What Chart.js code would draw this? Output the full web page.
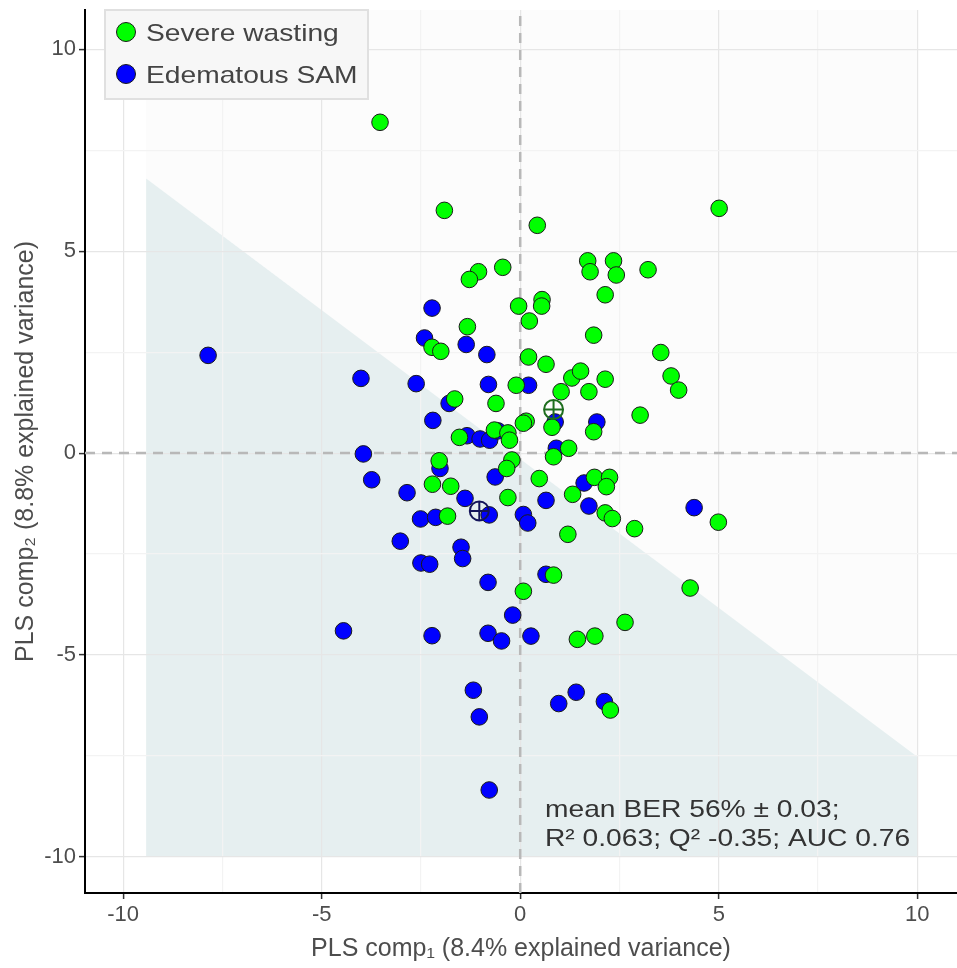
<!DOCTYPE html>
<html><head><meta charset="utf-8">
<script src="https://cdn.jsdelivr.net/npm/chart.js@4/dist/chart.umd.min.js"></script>
<style>html,body{margin:0;padding:0;background:#fff;}canvas{display:block}</style>
</head><body>
<canvas id="c" width="957" height="968"></canvas>
<script>
// ---------- data ----------
const groupLabels = ['Severe wasting', 'Edematous SAM'];
const severeX = [-3.53,-1.91,0.43,5.01,1.70,1.76,2.35,2.42,3.22,2.14,-0.44,-1.05,-1.28,-0.04,0.55,0.54,0.23,1.85,-1.33,-2.22,-2.00,0.21,0.65,1.30,1.52,2.14,3.54,3.80,3.99,-0.10,1.03,1.73,-1.65,-0.61,3.02,0.15,0.80,1.85,1.22,0.84,-0.21,-0.34,-1.53,-0.65,-0.31,-0.27,-2.04,-2.21,-1.75,0.48,-0.31,1.32,1.87,2.25,2.17,2.14,2.32,2.88,1.20,-1.83,0.84,0.08,2.64,1.44,1.88,2.27,4.99,4.28,0.08];
const severeY = [8.19,6.01,5.64,6.06,4.76,4.49,4.76,4.41,4.54,3.92,4.60,4.49,4.30,3.64,3.80,3.64,3.27,2.92,3.13,2.62,2.52,2.38,2.20,1.86,2.03,1.83,2.49,1.91,1.56,1.68,1.52,1.52,1.34,1.23,0.94,0.79,0.64,0.53,0.12,-0.09,-0.17,-0.38,0.39,0.57,0.50,0.32,-0.19,-0.77,-0.82,-0.63,-1.10,-1.02,-0.60,-0.60,-0.83,-1.48,-1.62,-1.87,-2.01,-1.56,-3.02,-3.42,-4.19,-4.61,-4.53,-6.36,-1.71,-3.34,0.74];
const edemaX = [-7.86,-2.22,-2.41,-1.36,-0.84,-4.01,-2.62,-0.80,0.21,-1.79,-2.20,-1.34,-1.01,-0.77,-0.56,0.88,1.93,0.91,-2.02,-0.63,-3.95,-3.74,-2.85,-1.39,0.65,1.61,1.73,4.38,-2.51,-2.13,-0.78,0.08,0.19,-3.02,-1.49,-1.45,-2.50,-2.28,-0.81,0.65,-0.19,-4.45,-2.22,-0.81,-0.47,0.27,-1.18,-1.03,0.97,1.41,2.12,-0.78];
const edemaY = [2.42,3.59,2.85,2.69,2.44,1.85,1.72,1.70,1.68,1.23,0.81,0.43,0.35,0.32,0.55,0.77,0.77,0.12,-0.38,-0.59,-0.02,-0.66,-0.98,-1.12,-1.17,-0.74,-1.31,-1.35,-1.63,-1.59,-1.53,-1.52,-1.73,-2.18,-2.33,-2.61,-2.72,-2.75,-3.20,-3.00,-4.01,-4.40,-4.52,-4.46,-4.65,-4.53,-5.87,-6.53,-6.20,-5.92,-6.15,-8.34];
const centroidX = [0.84, -1.03];
const centroidY = [1.08, -1.43];
const xRange = [-10.96, 11.0];
const yRange = [-10.89, 10.97];
const majorTicks = [-10, -5, 0, 5, 10];
const regionEdemaX = [-9.42, 10, 10, -9.42];
const regionEdemaY = [6.8, -7.52, -10, -10];
const regionSevereX = [-9.42, 10, 10, -9.42];
const regionSevereY = [10.97, 10.97, -7.52, 6.8];
const xTitle = 'PLS comp\u2081 (8.4% explained variance)';
const yTitle = 'PLS comp\u2082 (8.8% explained variance)';
const statsLines = ['mean BER 56% \u00b1 0.03;', 'R\u00b2 0.063; Q\u00b2 -0.35; AUC 0.76'];

// ---------- styles ----------
const FONT = "'Liberation Sans', Arial, sans-serif";
const colSevere = '#00ff00', colEdema = '#0000ff';
const toPts = (xs, ys) => xs.map((x, i) => ({x: x, y: ys[i]}));

const regionPlugin = {
  id: 'regions',
  beforeDraw(chart) {
    const {ctx, scales: {x, y}} = chart;
    const poly = (xs, ys, fill) => {
      ctx.beginPath();
      xs.forEach((v, i) => {
        const px = x.getPixelForValue(v), py = y.getPixelForValue(ys[i]);
        i ? ctx.lineTo(px, py) : ctx.moveTo(px, py);
      });
      ctx.closePath(); ctx.fillStyle = fill; ctx.fill();
    };
    ctx.save();
    ctx.beginPath();
    const a = chart.chartArea;
    ctx.rect(a.left, a.top, a.right - a.left, a.bottom - a.top); ctx.clip();
    poly(regionSevereX, regionSevereY, '#fcfcfc');
    poly(regionEdemaX, regionEdemaY, '#e6eff0');
    ctx.restore();
  }
};

const stretch = 1.175;
const textPlugin = {
  id: 'texts',
  afterDraw(chart) {
    const {ctx} = chart;
    const drawText = (t, px, py, size, color) => {
      ctx.save();
      ctx.translate(px, py); ctx.scale(stretch, 1);
      ctx.font = size + 'px ' + FONT; ctx.fillStyle = color;
      ctx.textBaseline = 'alphabetic'; ctx.textAlign = 'left';
      ctx.fillText(t, 0, 0);
      ctx.restore();
    };
    drawText(statsLines[0], 545, 817, 24, '#333333');
    drawText(statsLines[1], 545, 846, 24, '#333333');
    ctx.save();
    ctx.fillStyle = '#f7f7f7'; ctx.strokeStyle = '#e0e0e0'; ctx.lineWidth = 2;
    ctx.fillRect(105, 10, 263, 89); ctx.strokeRect(105, 10, 263, 89);
    ctx.restore();
    const ds = chart.data.datasets;
    [0, 1].forEach((k, i) => {
      const cy = 32 + i * 42;
      ctx.save();
      ctx.beginPath(); ctx.arc(126, cy, 9.5, 0, Math.PI * 2);
      ctx.fillStyle = ds[k].backgroundColor; ctx.fill();
      ctx.lineWidth = 1; ctx.strokeStyle = '#1a1a1a'; ctx.stroke();
      ctx.restore();
      drawText(ds[k].label, 146, cy + 8.5, 24, '#444444');
    });
  }
};

const gridColor = c => (c.tick && c.tick.value % 5 === 0) ? '#e6e6e6' : '#f3f3f3';
const tickColor = c => (c.tick && c.tick.value % 5 === 0) ? '#333333' : 'rgba(0,0,0,0)';
const tickCb = v => (majorTicks.includes(v) ? String(v) : '');

new Chart(document.getElementById('c'), {
  type: 'scatter',
  data: {
    datasets: [
      {label: groupLabels[0], data: toPts(severeX, severeY), backgroundColor: colSevere, borderColor: '#1a1a1a', borderWidth: 1, pointRadius: 8.3, order: 4},
      {label: groupLabels[1], data: toPts(edemaX, edemaY), backgroundColor: colEdema, borderColor: '#1a1a1a', borderWidth: 1, pointRadius: 8.3, order: 5},
      {label: 'c1', data: [{x: centroidX[0], y: centroidY[0]}], pointStyle: 'circle', backgroundColor: 'rgba(0,0,0,0)', borderColor: '#1e6e1e', borderWidth: 2, pointRadius: 9.5, order: 1},
      {label: 'c1x', data: [{x: centroidX[0], y: centroidY[0]}], pointStyle: 'cross', borderColor: '#1e6e1e', borderWidth: 2, pointRadius: 9.5, order: 1},
      {label: 'c2', data: [{x: centroidX[1], y: centroidY[1]}], pointStyle: 'circle', backgroundColor: 'rgba(0,0,0,0)', borderColor: '#14145a', borderWidth: 2, pointRadius: 9.5, order: 1},
      {label: 'c2x', data: [{x: centroidX[1], y: centroidY[1]}], pointStyle: 'cross', borderColor: '#14145a', borderWidth: 2, pointRadius: 9.5, order: 1},
      {type: 'line', label: 'h0', data: [{x: xRange[0], y: 0}, {x: xRange[1], y: 0}], borderColor: '#b8b8b8', borderWidth: 2.5, borderDash: [10, 7], pointRadius: 0, order: 10},
      {type: 'line', label: 'v0', data: [{x: 0, y: yRange[0]}, {x: 0, y: yRange[1]}], borderColor: '#b8b8b8', borderWidth: 2.5, borderDash: [10, 7], pointRadius: 0, order: 10}
    ]
  },
  options: {
    responsive: false, animation: false, devicePixelRatio: 1, events: [],
    layout: {autoPadding: false, padding: {top: 10, right: 0, left: 0, bottom: 0}},
    plugins: {legend: {display: false}, tooltip: {enabled: false}},
    scales: {
      x: {
        type: 'linear', min: xRange[0], max: xRange[1],
        afterFit: s => { s.height = 75; s.paddingLeft = 0; s.paddingRight = 0; },
        border: {display: true, color: '#000', width: 2},
        grid: {color: gridColor, lineWidth: 1.2, tickLength: 6, tickColor: tickColor, tickWidth: 1.5},
        ticks: {stepSize: 2.5, includeBounds: false, autoSkip: false, maxRotation: 0, callback: tickCb, color: '#4d4d4d', font: {family: FONT, size: 22}, padding: 3},
        title: {display: true, text: xTitle, color: '#4d4d4d', font: {family: FONT, size: 25}, padding: {top: 0, bottom: 4}}
      },
      y: {
        type: 'linear', min: yRange[0], max: yRange[1],
        afterFit: s => { s.width = 85; s.paddingTop = 0; s.paddingBottom = 0; },
        border: {display: true, color: '#000', width: 2},
        grid: {color: gridColor, lineWidth: 1.2, tickLength: 6, tickColor: tickColor, tickWidth: 1.5},
        ticks: {stepSize: 2.5, includeBounds: false, autoSkip: false, callback: tickCb, color: '#4d4d4d', font: {family: FONT, size: 22}, padding: 3},
        title: {display: true, text: yTitle, color: '#4d4d4d', font: {family: FONT, size: 25}, padding: {top: 11, bottom: 0}}
      }
    }
  },
  plugins: [regionPlugin, textPlugin]
});
</script>
</body></html>
